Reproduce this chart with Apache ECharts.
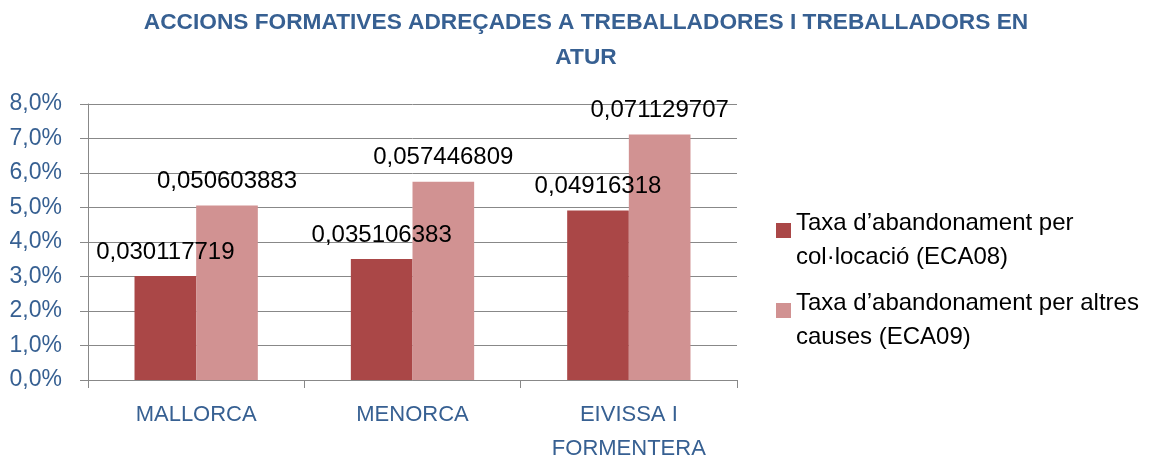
<!DOCTYPE html>
<html>
<head>
<meta charset="utf-8">
<script src="https://cdn.jsdelivr.net/npm/echarts@6/dist/echarts.min.js"></script>
<style>
  html, body { margin: 0; padding: 0; background: #fff; }
  #chart { width: 1151px; height: 455px; }
</style>
</head>
<body>
<div id="chart"></div>
<script>
// dades
var categories = ['MALLORCA', 'MENORCA', 'EIVISSA I\nFORMENTERA'];
var colocacio = [0.030117719, 0.035106383, 0.04916318];
var altres = [0.050603883, 0.057446809, 0.071129707];
var serieNames = ['Taxa d\u2019abandonament per\ncol\u00b7locaci\u00f3 (ECA08)', 'Taxa d\u2019abandonament per altres\ncauses (ECA09)'];
var titleText = 'ACCIONS FORMATIVES ADRE\u00c7ADES A TREBALLADORES I TREBALLADORS EN\nATUR';

var blue = '#376092';
var gridGray = '#888888';
var font = 'Liberation Sans';

function fmtLabel(p) {
  return String(p.value).replace('.', ',');
}

// linia buida (mes baixa) al davant perque el quadrat quedi a l'altura de la primera linia
function fmtLegend(name) {
  return '{s| }\n' + name;
}

var legendText = {
  color: '#000',
  fontSize: 24,
  fontFamily: font,
  lineHeight: 34,
  rich: {
    s: { fontSize: 10, lineHeight: 20 }
  }
};

var chart = echarts.init(document.getElementById('chart'));
var option = {
  animation: false,
  title: {
    text: titleText,
    left: 586,
    top: 5,
    padding: 0,
    textAlign: 'center',
    textStyle: {
      color: blue,
      fontSize: 22.7,
      fontWeight: 'bold',
      fontFamily: font,
      lineHeight: 35
    }
  },
  legend: [{
    data: [serieNames[0]],
    orient: 'vertical',
    left: 776,
    top: 186.5,
    padding: 0,
    itemWidth: 15,
    itemHeight: 15,
    icon: 'rect',
    formatter: fmtLegend,
    textStyle: legendText
  }, {
    data: [serieNames[1]],
    orient: 'vertical',
    left: 776,
    top: 266.5,
    padding: 0,
    itemWidth: 15,
    itemHeight: 15,
    icon: 'rect',
    formatter: fmtLegend,
    textStyle: legendText
  }],
  grid: {
    left: 88,
    right: 414,
    top: 104,
    bottom: 75,
    containLabel: false,
    outerBoundsMode: 'none'
  },
  xAxis: {
    type: 'category',
    data: categories,
    axisLine: { show: true, lineStyle: { color: gridGray } },
    axisTick: { show: true, length: 8, lineStyle: { color: gridGray } },
    axisLabel: {
      color: blue,
      fontSize: 22,
      fontFamily: font,
      lineHeight: 34,
      margin: 18
    }
  },
  yAxis: {
    type: 'value',
    min: 0,
    max: 0.08,
    interval: 0.01,
    axisLine: { show: true, lineStyle: { color: gridGray } },
    axisTick: { show: true, length: 8, lineStyle: { color: gridGray } },
    splitLine: { show: true, lineStyle: { color: gridGray } },
    axisLabel: {
      color: blue,
      fontSize: 23,
      fontFamily: font,
      margin: 26,
      formatter: function (v) {
        return (v * 100).toFixed(1).replace('.', ',') + '%';
      }
    }
  },
  series: [{
    name: serieNames[0],
    type: 'bar',
    data: colocacio,
    barGap: '0%',
    barCategoryGap: '43%',
    itemStyle: { color: '#AA4747' },
    label: {
      show: true,
      position: 'top',
      distance: 12,
      color: '#000',
      fontSize: 24,
      fontFamily: font,
      formatter: fmtLabel
    }
  }, {
    name: serieNames[1],
    type: 'bar',
    data: altres,
    barGap: '0%',
    barCategoryGap: '43%',
    itemStyle: { color: '#D19292' },
    label: {
      show: true,
      position: 'top',
      distance: 12,
      color: '#000',
      fontSize: 24,
      fontFamily: font,
      formatter: fmtLabel
    }
  }]
};
chart.setOption(option);
</script>
</body>
</html>
